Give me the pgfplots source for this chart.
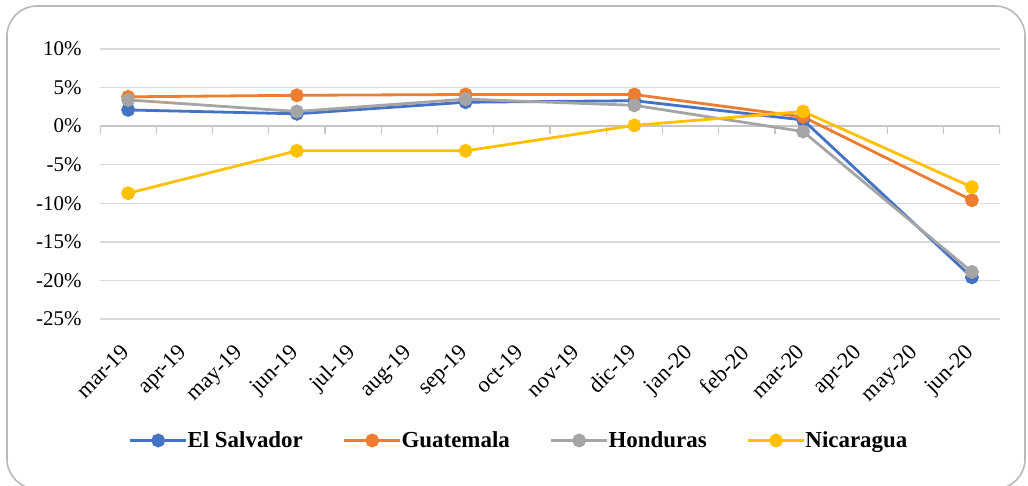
\documentclass[border=0pt]{standalone}
\usepackage{fontspec}
\setmainfont{Liberation Serif}
\usepackage{pgfplots}
\pgfplotsset{compat=1.18}
\definecolor{cES}{HTML}{4472C4}
\definecolor{cGU}{HTML}{ED7D31}
\definecolor{cHO}{HTML}{A5A5A5}
\definecolor{cNI}{HTML}{FFC000}
\begin{document}
\begin{tikzpicture}[x=1bp,y=1bp]
\path[use as bounding box] (0,0) rectangle (1028,-486);
\draw[color=gray!55, line width=1.6bp, rounded corners=30bp] (7,-6) rectangle (1025,-489);
\begin{axis}[
  at={(100bp,-319bp)}, anchor=south west,
  scale only axis, width=900bp, height=270bp,
  xmin=-0.5, xmax=15.5, ymin=-25, ymax=10,
  axis line style={draw=none}, tick style={draw=none},
  ytick={-25,-20,...,10},
  yticklabels={-25\%,-20\%,-15\%,-10\%,-5\%,0\%,5\%,10\%},
  ymajorgrids, grid style={color=gray!30, line width=1.3bp},
  xtick={0,...,15},
  xticklabels={mar-19,apr-19,may-19,jun-19,jul-19,aug-19,sep-19,oct-19,nov-19,dic-19,jan-20,feb-20,mar-20,apr-20,may-20,jun-20},
  x tick label style={rotate=45, anchor=north east, font=\fontsize{22.5}{24}\selectfont, xshift=-19bp, yshift=-8bp},
  y tick label style={font=\fontsize{21}{23}\selectfont, xshift=-15bp},
  every axis plot/.append style={line width=2.8bp, mark=*, mark size=5.5bp, mark options={solid}},
  legend columns=4,
  legend style={at={(0.4656,-0.45)}, anchor=center, draw=none, fill=none,
    font=\bfseries\fontsize{23}{25}\selectfont,
    /tikz/every even column/.append style={column sep=38bp},
    /tikz/every odd column/.append style={column sep=-2bp}},
  legend image code/.code={\draw[mark repeat=2,mark phase=2] plot coordinates {(0bp,0bp)(28bp,0bp)(56bp,0bp)};},
]
\draw[color=gray!45, line width=1.3bp] (axis cs:-0.5,0) -- (axis cs:15.5,0);
\pgfplotsinvokeforeach{-0.5,0.5,...,15.5}{\draw[color=gray!45, line width=1.3bp] (axis cs:#1,0) -- ([yshift=-8bp]axis cs:#1,0);}
\addplot[color=cES] coordinates {(0,2.1) (3,1.6) (6,3.1) (9,3.3) (12,0.8) (15,-19.6)};
\addlegendentry{El Salvador}
\addplot[color=cGU] coordinates {(0,3.8) (3,4.0) (6,4.1) (9,4.1) (12,1.2) (15,-9.6)};
\addlegendentry{Guatemala}
\addplot[color=cHO] coordinates {(0,3.4) (3,1.9) (6,3.5) (9,2.7) (12,-0.7) (15,-18.9)};
\addlegendentry{Honduras}
\addplot[color=cNI] coordinates {(0,-8.7) (3,-3.2) (6,-3.2) (9,0.1) (12,1.9) (15,-7.9)};
\addlegendentry{Nicaragua}
\end{axis}
\end{tikzpicture}
\end{document}
